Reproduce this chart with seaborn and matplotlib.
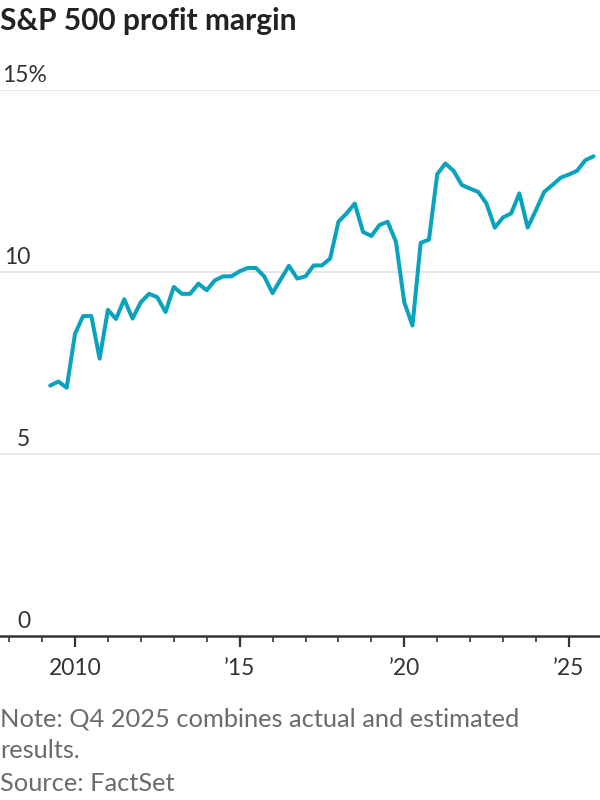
import matplotlib
matplotlib.use("Agg")
import matplotlib.pyplot as plt
import matplotlib.dates as mdates
import numpy as np
import pandas as pd
import seaborn as sns

# ---- data (quarterly, S&P 500 net profit margin, %) ----
start_quarter = "2009Q2"
end_quarter = "2025Q4"
margin = [
    6.88, 6.99, 6.82,                 # 2009 Q2-Q4
    8.30, 8.79, 8.79, 7.62,           # 2010
    8.96, 8.71, 9.25, 8.72,           # 2011
    9.17, 9.40, 9.31, 8.90,           # 2012
    9.59, 9.40, 9.40, 9.68,           # 2013
    9.50, 9.77, 9.88, 9.88,           # 2014
    10.02, 10.11, 10.11, 9.88,        # 2015
    9.42, 9.80, 10.17, 9.82,          # 2016
    9.88, 10.18, 10.18, 10.37,        # 2017
    11.38, 11.61, 11.88, 11.10,       # 2018
    10.99, 11.29, 11.38, 10.83,       # 2019
    9.17, 8.53, 10.80, 10.89,         # 2020
    12.69, 12.98, 12.78, 12.39,       # 2021
    12.29, 12.20, 11.88, 11.22,       # 2022
    11.50, 11.61, 12.16, 11.22,       # 2023
    11.70, 12.20, 12.39, 12.59,       # 2024
    12.68, 12.78, 13.07, 13.18,       # 2025
]
y_ticks = [0, 5, 10, 15]
y_tick_labels = ["0", "5", "10", "15%"]
x_tick_years = [2010, 2015, 2020, 2025]
x_tick_labels = ["2010", "\u201915", "\u201920", "\u201925"]
title = "S&P 500 profit margin"
note_lines = ["Note: Q4 2025 combines actual and estimated", "results.", "Source: FactSet"]

quarters = pd.period_range(start_quarter, end_quarter, freq="Q").start_time
df = pd.DataFrame({"date": quarters, "margin": margin})

# ---- style ----
sns.set_theme(style="white")
plt.rcParams["font.family"] = ["Lato", "DejaVu Sans"]

W, H = 600, 800
fig = plt.figure(figsize=(6, 8), dpi=100)
ax_bottom_px, ax_top_px = 636, 90
ax = fig.add_axes([0, 1 - ax_bottom_px / H, 1, (ax_bottom_px - ax_top_px) / H])

line_color = "#0aa3be"
sns.lineplot(data=df, x="date", y="margin", ax=ax, color=line_color, linewidth=2.9)

# y axis
ax.set_ylim(0, 15)
ax.set_yticks(y_ticks)
ax.set_yticklabels([])
ax.tick_params(axis="y", length=0)
for v in y_ticks[1:]:
    ax.axhline(v, color="#e3e3e3", linewidth=1.2, zorder=0)
for v, lab in zip(y_ticks, y_tick_labels):
    if lab.endswith("%"):
        ax.annotate(lab, xy=(0, v), xycoords=("axes fraction", "data"),
                    xytext=(1.5, 3), textcoords="offset points",
                    ha="left", va="bottom", fontsize=16.5, color="#333333")
    else:
        ax.annotate(lab, xy=(30 / W, v), xycoords=("axes fraction", "data"),
                    xytext=(0, 3), textcoords="offset points",
                    ha="right", va="bottom", fontsize=16.5, color="#333333")

# x axis
d2010 = mdates.date2num(pd.Timestamp("2010-01-01"))
px_per_day = 32.93 / 365.25
ax.set_xlim(d2010 - 75 / px_per_day, d2010 + (W - 75) / px_per_day)
ax.set_xticks([mdates.date2num(pd.Timestamp(f"{y}-01-01")) for y in x_tick_years])
ax.set_xticklabels(x_tick_labels)
ax.xaxis.set_minor_locator(mdates.YearLocator(1))
ax.tick_params(axis="x", which="major", length=8, width=1.6, color="#333333",
               labelsize=16.5, labelcolor="#333333", pad=8, bottom=True)
ax.tick_params(axis="x", which="minor", length=4, width=1.2, color="#333333", bottom=True)
ax.set_xlabel("")
ax.set_ylabel("")

for s in ["top", "right", "left"]:
    ax.spines[s].set_visible(False)
ax.spines["bottom"].set_color("#333333")
ax.spines["bottom"].set_linewidth(1.8)
ax.set_facecolor("none")

# title & notes
fig.text(0, 1 - 30 / H, title, fontsize=21.5, fontweight="bold", color="#222222",
         ha="left", va="baseline")
note_y = [726, 758, 791]
for txt, yy in zip(note_lines, note_y):
    fig.text(0, 1 - yy / H, txt, fontsize=18.3, color="#6b6b6b", ha="left", va="baseline")

fig.savefig("out.png", dpi=100)
